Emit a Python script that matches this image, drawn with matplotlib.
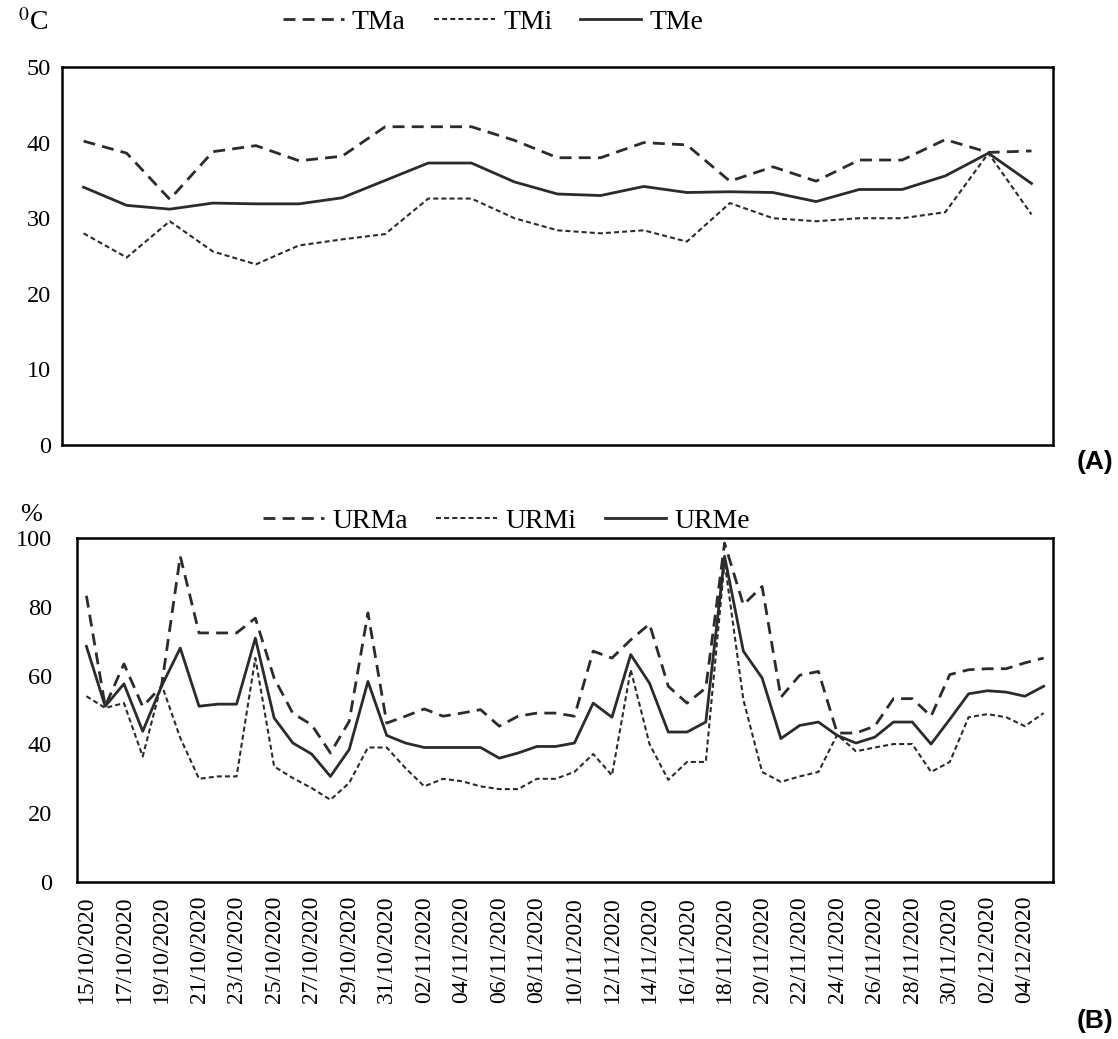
import matplotlib
matplotlib.use("Agg")
import matplotlib.pyplot as plt
import pandas as pd

plt.rcParams['font.family'] = 'Liberation Serif'
plt.rcParams['mathtext.fontset'] = 'stix'

# temperatura (A) - 23 registros
tma = [40.2, 38.6, 32.5, 38.8, 39.6, 37.6, 38.2, 42.1, 42.1, 42.1, 40.3, 38.0,
       38.0, 40.0, 39.7, 34.9, 36.8, 34.9, 37.7, 37.7, 40.4, 38.7, 38.9]
tmi = [28.0, 24.8, 29.6, 25.6, 23.9, 26.4, 27.2, 27.9, 32.6, 32.6, 30.0, 28.4,
       28.0, 28.4, 26.9, 32.0, 30.0, 29.6, 30.0, 30.0, 30.8, 38.6, 30.5]
tme = [34.1, 31.7, 31.2, 32.0, 31.9, 31.9, 32.7, 35.0, 37.3, 37.3, 34.8, 33.2,
       33.0, 34.2, 33.4, 33.5, 33.4, 32.2, 33.8, 33.8, 35.6, 38.6, 34.6]

# umidade relativa (B) - diario 15/10/2020 a 05/12/2020
urma = [83.2, 51.1, 63.4, 51.0, 56.9, 94.7, 72.4, 72.4, 72.4, 76.7, 59.3, 49.0,
        45.7, 37.5, 46.7, 78.2, 46.2, 48.2, 50.3, 48.2, 49.1, 50.1, 45.3, 48.2,
        49.1, 49.1, 48.2, 67.1, 65.1, 70.4, 75.0, 56.9, 52.0, 56.4, 98.5, 80.6,
        85.9, 53.7, 60.1, 61.2, 43.3, 43.3, 45.3, 53.3, 53.3, 48.2, 60.3, 61.7,
        62.0, 62.0, 63.7, 65.1]
urmi = [54.0, 50.6, 52.0, 36.5, 57.5, 41.9, 30.0, 30.7, 30.7, 65.1, 33.6, 30.2,
        27.3, 23.9, 28.8, 39.1, 39.1, 33.1, 27.8, 30.0, 29.3, 27.8, 27.0, 27.0,
        30.0, 30.0, 32.0, 37.2, 31.0, 61.7, 40.1, 29.7, 34.9, 34.9, 93.2, 53.0,
        32.0, 29.1, 30.7, 32.0, 42.8, 38.0, 39.1, 40.1, 40.1, 32.0, 34.9, 47.9,
        48.8, 47.9, 45.3, 49.1]
urme = [68.5, 51.1, 57.6, 43.8, 56.9, 68.0, 51.1, 51.7, 51.7, 70.9, 47.7, 40.4,
        37.2, 30.7, 38.5, 58.3, 42.6, 40.4, 39.1, 39.1, 39.1, 39.1, 36.0, 37.5,
        39.4, 39.4, 40.4, 52.0, 47.9, 66.1, 57.8, 43.6, 43.6, 46.5, 94.7, 67.1,
        59.3, 41.7, 45.5, 46.5, 42.6, 40.4, 42.1, 46.5, 46.5, 40.1, 47.3, 54.7,
        55.6, 55.2, 54.0, 56.9]
datas = pd.date_range('2020-10-15', '2020-12-05', freq='D').strftime('%d/%m/%Y').tolist()

cor = '#2b2b2b'
estilo_ma = dict(color=cor, lw=2.0, linestyle=(0, (4.3, 2.6)))
estilo_mi = dict(color=cor, lw=1.5, linestyle=(0, (2.4, 1.5)))
estilo_me = dict(color=cor, lw=2.0, linestyle='-')

fig = plt.figure(figsize=(11.18, 10.39), dpi=100)
ax1 = fig.add_axes([0.0555, 0.5717, 0.8864, 0.3638])
ax2 = fig.add_axes([0.0689, 0.1511, 0.8730, 0.3311])

x1 = range(len(tma))
ax1.plot(x1, tma, label='TMa', **estilo_ma)
ax1.plot(x1, tmi, label='TMi', **estilo_mi)
ax1.plot(x1, tme, label='TMe', **estilo_me)
ax1.set_xlim(-0.5, len(tma) - 0.5)
ax1.set_ylim(0, 50)
ax1.set_yticks(range(0, 51, 10))
ax1.set_xticks([])
ax1.tick_params(axis='y', length=0, pad=8, labelsize=17.5)

x2 = range(len(urma))
ax2.plot(x2, urma, label='URMa', **estilo_ma)
ax2.plot(x2, urmi, label='URMi', **estilo_mi)
ax2.plot(x2, urme, label='URMe', **estilo_me)
ax2.set_xlim(-0.5, len(urma) - 0.5)
ax2.set_ylim(0, 100)
ax2.set_yticks(range(0, 101, 20))
ax2.set_xticks(range(0, len(datas), 2))
ax2.set_xticklabels(datas[::2], rotation=90)
ax2.tick_params(axis='y', length=0, pad=18, labelsize=17.5)
ax2.tick_params(axis='x', length=0, pad=10, labelsize=17)

for ax in (ax1, ax2):
    for s in ax.spines.values():
        s.set_linewidth(1.8)
        s.set_color('black')

fig.legend(*ax1.get_legend_handles_labels(), loc='center', bbox_to_anchor=(0.441, 0.979),
           ncol=3, frameon=False, fontsize=20, handlelength=2.2, handletextpad=0.3,
           columnspacing=1.0)
fig.legend(*ax2.get_legend_handles_labels(), loc='center', bbox_to_anchor=(0.453, 0.4985),
           ncol=3, frameon=False, fontsize=20, handlelength=2.2, handletextpad=0.3,
           columnspacing=1.0)

fig.text(0.016, 0.978, '$^{0}$C', fontsize=20, va='center', ha='left')
fig.text(0.018, 0.504, '%', fontsize=19, va='center', ha='left')
fig.text(0.996, 0.555, '(A)', fontsize=19, fontweight='bold', family='Liberation Sans',
         ha='right', va='center')
fig.text(0.996, 0.017, '(B)', fontsize=19, fontweight='bold', family='Liberation Sans',
         ha='right', va='center')

fig.savefig('out.png', dpi=100)
